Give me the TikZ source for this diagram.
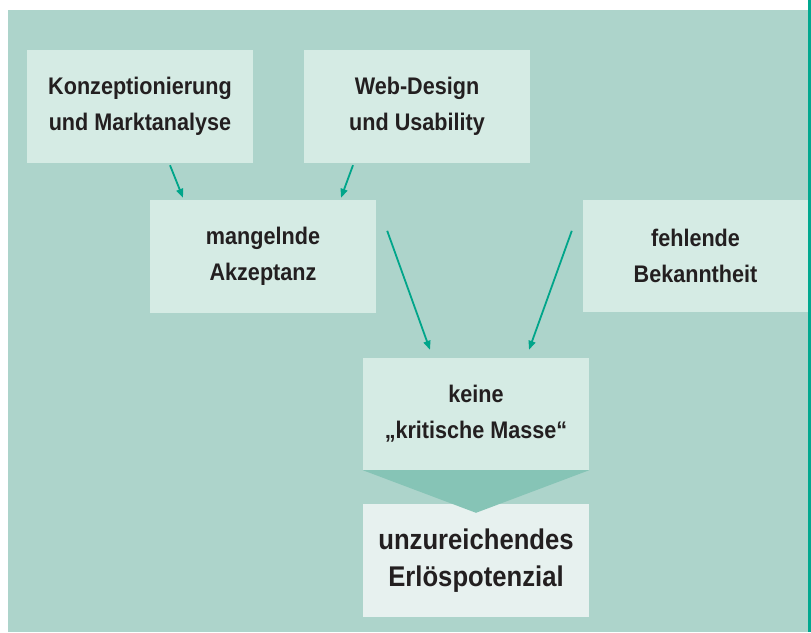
\documentclass[tikz,border=0pt]{standalone}
\usepackage{fontspec}
\setmainfont{Liberation Sans}[FakeStretch=0.9]
\usetikzlibrary{arrows.meta}
\definecolor{bgc}{HTML}{ADD4CB}
\definecolor{boxc}{HTML}{D5EBE4}
\definecolor{lastc}{HTML}{E7F1EF}
\definecolor{trapc}{HTML}{86C4B6}
\definecolor{arrc}{HTML}{00A58A}
\definecolor{barc}{HTML}{00A88F}
\definecolor{txtc}{HTML}{231F20}
\tikzset{
  stepbox/.style={fill=boxc, draw=none, minimum width=226pt, minimum height=113pt,
    inner sep=0pt, align=center, text=txtc, font=\bfseries\fontsize{24}{36}\selectfont},
  lastbox/.style={stepbox, fill=lastc, font=\bfseries\fontsize{28.5}{37}\selectfont},
  arr/.style={draw=arrc, line width=1.8pt, -{Triangle[length=9pt,width=7pt]}}
}
\begin{document}
\begin{tikzpicture}[x=1pt,y=-1pt]
\useasboundingbox (0,0) rectangle (811,632);
\fill[white] (0,0) rectangle (811,632);
\fill[bgc] (8,10) rectangle (808,632);
\fill[barc] (808,0) rectangle (811,632);

\node[stepbox] (b1) at (140,106.5) {Konzeptionierung\\und Marktanalyse};
\node[stepbox] (b2) at (417,106.5) {Web-Design\\und Usability};
\node[stepbox] (b3) at (263,256.5) {mangelnde\\Akzeptanz};
\node[stepbox, minimum width=225pt, minimum height=112pt] (b4) at (695.5,256) {fehlende\\Bekanntheit};
\node[stepbox, minimum height=112pt] (b5) at (476,414) {keine\\„kritische Masse“};
\node[lastbox] (b6) at (476,560.5) {unzureichendes\\Erlöspotenzial};

\fill[trapc] (b5.south west) -- (b5.south east) -- ([yshift=-9pt]b6.north) -- cycle;

\draw[arr] ([xshift=30pt,yshift=-2pt]b1.south) -- ([xshift=-80pt,yshift=2pt]b3.north);
\draw[arr] ([xshift=-64pt,yshift=-2pt]b2.south) -- ([xshift=78pt,yshift=2pt]b3.north);
\draw[arr] ([xshift=11pt,yshift=-31pt]b3.north east) -- ([xshift=-46pt,yshift=8pt]b5.north);
\draw[arr] ([xshift=-11pt,yshift=-31pt]b4.north west) -- ([xshift=53pt,yshift=8pt]b5.north);
\end{tikzpicture}
\end{document}
